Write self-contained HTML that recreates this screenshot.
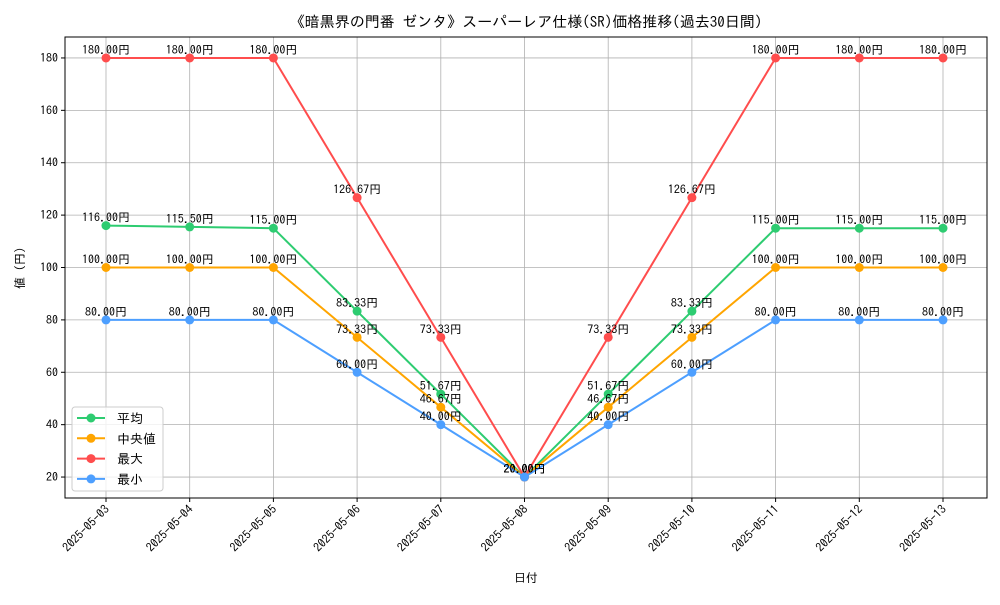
<!DOCTYPE html>
<html><head><meta charset="utf-8"><style>
body{margin:0;background:#fff}
svg{font-family:"IPAGothic","Noto Sans CJK JP",sans-serif}
</style></head><body>
<svg id="c" width="1000" height="600" xmlns="http://www.w3.org/2000/svg"></svg>
<script>
const categories=["2025-05-03","2025-05-04","2025-05-05","2025-05-06","2025-05-07","2025-05-08","2025-05-09","2025-05-10","2025-05-11","2025-05-12","2025-05-13"];
const avgValues=[116,115.5,115,83.33,51.67,20,51.67,83.33,115,115,115];
const medianValues=[100,100,100,73.33,46.67,20,46.67,73.33,100,100,100];
const maxValues=[180,180,180,126.67,73.33,20,73.33,126.67,180,180,180];
const minValues=[80,80,80,60,40,20,40,60,80,80,80];
const yTicks=[20,40,60,80,100,120,140,160,180];
const seriesNames=["平均","中央値","最大","最小"];

const NS="http://www.w3.org/2000/svg";
const svg=document.getElementById('c');
const L=65,R=987,T=37,B=498,Y0=12,Y1=188;
const x=i=>106+i*(943-106)/(categories.length-1);
const y=v=>B-(v-Y0)/(Y1-Y0)*(B-T);
function mk(tag,at,txt){const e=document.createElementNS(NS,tag);for(const k in at)e.setAttribute(k,at[k]);if(txt!=null)e.textContent=txt;svg.appendChild(e);return e;}

let e=mk('rect',{x:0,y:0,width:1000,height:600,fill:'#fff'});


// grid
yTicks.forEach(v=>{
 let g=mk('line',{x1:L,x2:R,y1:y(v),y2:y(v),stroke:'#b0b0b0','stroke-width':0.8});
 
 
 let t=mk('line',{x1:L-4,x2:L,y1:y(v),y2:y(v),stroke:'#000'});
 
 
 let l=mk('text',{x:L-7,y:y(v)+4,'text-anchor':'end','font-size':12},v);
 
 
});
categories.forEach((c,i)=>{
 let g=mk('line',{x1:x(i),x2:x(i),y1:T,y2:B,stroke:'#b0b0b0','stroke-width':0.8});
 
 
 let t=mk('line',{x1:x(i),x2:x(i),y1:B,y2:B+4,stroke:'#000'});
 
 
 let l=mk('text',{x:x(i)+4,y:B+12,'text-anchor':'end','font-size':12,transform:`rotate(-45 ${x(i)+4} ${B+12})`},c);
 
 
});
e=mk('rect',{x:L,y:T,width:R-L,height:B-T,fill:'none',stroke:'#000','stroke-width':1});



const series=[[avgValues,'#2ecc71'],[medianValues,'#ffa500'],[maxValues,'#ff4d4d'],[minValues,'#4d9fff']];
series.forEach(([vals,col],si)=>{
 let p=mk('polyline',{points:vals.map((v,i)=>x(i)+','+y(v)).join(' '),fill:'none',stroke:col,'stroke-width':2});
 
 
 vals.forEach((v,i)=>{
  let c=mk('circle',{cx:x(i),cy:y(v),r:4.5,fill:col});
  
  
  let t=mk('text',{x:x(i),y:y(v)-4,'text-anchor':'middle','font-size':12},v.toFixed(2)+'円');
  
  
 });
});

e=mk('text',{x:526,y:27,'text-anchor':'middle','font-size':15},'《暗黒界の門番 ゼンタ》スーパーレア仕様(SR)価格推移(過去30日間)');


e=mk('text',{x:526,y:582,'text-anchor':'middle','font-size':12},'日付');


e=mk('text',{x:24,y:268,'text-anchor':'middle','font-size':12,transform:'rotate(-90 24 268)'},'値 (円)');



e=mk('rect',{x:72,y:407,width:91,height:84,rx:3,fill:'#fff','fill-opacity':0.8,stroke:'#ccc'});


series.forEach(([vals,col],si)=>{
 const yy=418+si*20.3;
 let l=mk('line',{x1:77,x2:105,y1:yy,y2:yy,stroke:col,'stroke-width':2});
 
 
 let c=mk('circle',{cx:91,cy:yy,r:4.5,fill:col});
 
 
 let t=mk('text',{x:117,y:yy+5,'font-size':13},seriesNames[si]);
 
 
});
</script>
</body></html>
